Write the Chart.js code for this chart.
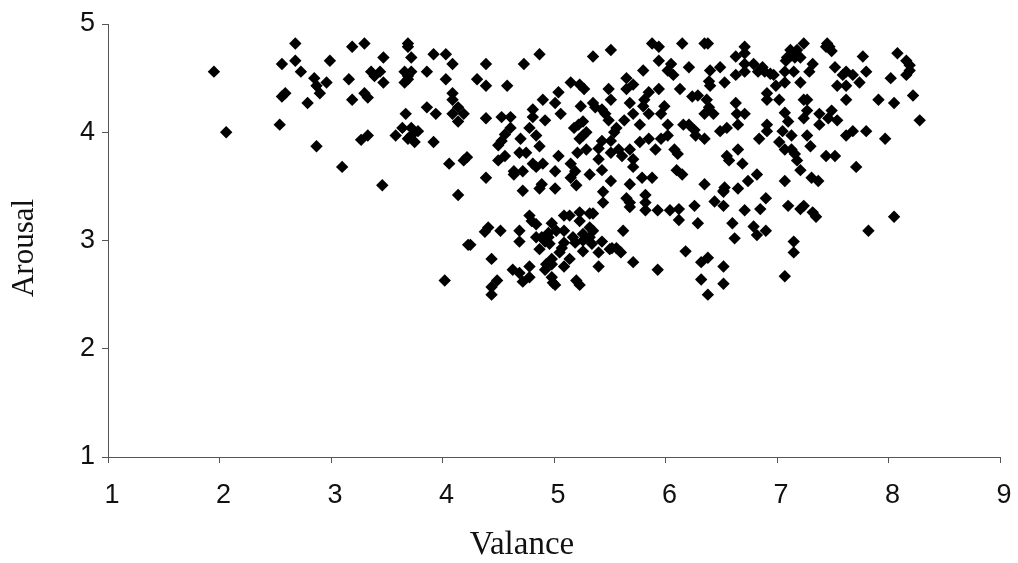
<!DOCTYPE html>
<html>
<head>
<meta charset="utf-8">
<title>Valance / Arousal</title>
<script src="https://cdn.jsdelivr.net/npm/chart.js@4"></script>
<style>
  html, body { margin: 0; background: #fff; }
  canvas { display: block; }
</style>
</head>
<body>
<canvas id="chart" width="1018" height="563"></canvas>
<script>
// [valance, arousal], left to right in rough groups
const lowValence = [
  [1.95,4.56],[2.06,4.00],[2.54,4.07],[2.56,4.63],[2.56,4.33],[2.59,4.36],[2.68,4.82],[2.68,4.66],
  [2.73,4.56],[2.79,4.27],[2.85,4.50],[2.87,4.43],[2.87,3.87],[2.90,4.36],[2.96,4.46],[2.99,4.66],
  [3.10,3.68],[3.16,4.49],[3.19,4.79],[3.19,4.30],[3.27,3.93],[3.30,4.82],[3.30,4.36],[3.33,4.32],
  [3.33,3.97],[3.36,4.56],[3.39,4.52],[3.44,4.56],[3.46,3.51],[3.47,4.69],[3.47,4.46],[3.58,3.97],
  [3.64,4.04],[3.66,4.56],[3.66,4.46],[3.67,4.17],[3.69,4.82],[3.69,4.79],[3.69,4.52],[3.69,4.49],
  [3.69,3.94],[3.72,4.69],[3.72,4.56],[3.72,4.04],[3.72,3.97],[3.75,3.91],[3.78,4.01],[3.86,4.56],
  [3.86,4.23],[3.92,4.72],[3.92,3.91],[3.94,4.17],[4.02,2.63],[4.03,4.72],[4.03,4.49],[4.06,3.71],
  [4.09,4.63],[4.09,4.36],[4.09,4.30],[4.09,4.17],[4.14,4.23],[4.14,4.10],[4.14,3.42],[4.19,4.17],
  [4.19,3.74],[4.22,3.77],[4.23,2.96],[4.25,2.96],[4.31,4.49],[4.38,3.08],[4.39,4.63],[4.39,4.43],
  [4.39,4.13],[4.39,3.58],[4.41,3.12],[4.44,2.83],[4.44,2.57],[4.44,2.50],[4.49,2.63]
];
const midLeftValence = [
  [4.50,3.88],[4.50,3.74],[4.52,3.09],[4.53,4.14],[4.53,3.92],[4.56,3.98],[4.56,3.78],[4.58,4.43],
  [4.61,4.14],[4.61,4.04],[4.63,2.73],[4.64,3.64],[4.64,3.61],[4.69,3.81],[4.69,3.09],[4.69,2.99],
  [4.69,2.70],[4.70,3.94],[4.72,3.64],[4.72,3.46],[4.72,2.62],[4.73,4.63],[4.75,3.81],[4.78,4.04],
  [4.78,3.23],[4.78,2.76],[4.78,2.66],[4.80,3.18],[4.81,4.21],[4.81,4.14],[4.81,3.71],[4.84,3.97],
  [4.84,3.68],[4.84,3.15],[4.84,3.03],[4.87,4.72],[4.87,3.87],[4.87,3.48],[4.87,2.92],[4.89,3.52],
  [4.89,3.03],[4.90,4.30],[4.90,3.71],[4.92,4.11],[4.92,2.99],[4.92,2.73],[4.93,2.78],[4.95,3.07],
  [4.95,3.03],[4.96,2.97],[4.98,3.16],[4.98,2.83],[4.98,2.78],[4.98,2.66],[4.99,2.61],[5.01,4.27],
  [5.01,3.64],[5.01,3.48],[5.01,2.59],[5.02,3.09],[5.04,4.37],[5.04,3.78],[5.05,2.89],[5.06,4.17],
  [5.07,2.93],[5.09,3.23],[5.09,3.09],[5.09,2.98],[5.09,2.76],[5.14,3.23],[5.14,2.83],[5.15,4.46],
  [5.15,3.71],[5.15,3.58],[5.17,3.03],[5.18,4.04],[5.19,3.64],[5.19,2.98],[5.20,3.51],[5.20,2.63],
  [5.21,3.81],[5.22,4.07],[5.23,4.44],[5.23,3.94],[5.23,3.26],[5.23,3.18],[5.23,2.59],[5.24,4.24],
  [5.26,4.10],[5.26,3.97],[5.26,3.06],[5.26,3.00],[5.26,2.90],[5.27,4.40],[5.29,4.00],[5.29,3.84],
  [5.32,3.61],[5.32,3.25],[5.32,3.12],[5.32,3.03],[5.34,2.97],[5.35,4.70],[5.35,4.27],[5.35,3.25],
  [5.35,3.09],[5.37,4.23],[5.40,3.85],[5.40,3.75],[5.40,2.89],[5.40,2.76],[5.43,4.21],[5.43,3.92],
  [5.43,3.65],[5.43,2.99],[5.44,3.45],[5.44,3.35],[5.46,4.17],[5.49,4.40],[5.49,4.11]
];
const midRightValence = [
  [5.50,2.92],[5.51,4.76],[5.51,4.30],[5.51,3.92],[5.51,3.81],[5.51,3.55],[5.52,2.93],[5.54,4.00],
  [5.56,4.04],[5.56,2.93],[5.58,3.84],[5.60,2.89],[5.61,3.78],[5.62,3.09],[5.63,4.11],[5.65,4.50],
  [5.65,4.40],[5.65,3.39],[5.68,4.27],[5.68,3.84],[5.68,3.52],[5.68,3.35],[5.68,3.31],[5.71,4.44],
  [5.71,4.17],[5.71,3.75],[5.71,3.68],[5.71,2.80],[5.77,4.07],[5.77,3.91],[5.79,3.58],[5.80,4.57],
  [5.80,4.24],[5.81,4.30],[5.82,3.42],[5.82,3.35],[5.82,3.28],[5.85,4.37],[5.85,4.17],[5.85,3.94],
  [5.88,4.82],[5.88,3.58],[5.91,3.84],[5.93,3.28],[5.93,2.73],[5.94,4.79],[5.94,4.66],[5.94,4.40],
  [5.96,4.17],[5.96,3.94],[5.99,4.24],[6.02,4.57],[6.02,4.07],[6.02,3.97],[6.04,3.28],[6.05,4.63],
  [6.07,4.53],[6.08,3.84],[6.10,3.65],[6.11,3.80],[6.12,3.29],[6.12,3.19],[6.13,4.40],[6.15,4.82],
  [6.15,3.61],[6.16,4.07],[6.18,2.90],[6.21,4.60],[6.21,4.07],[6.24,4.33],[6.26,4.02],[6.26,3.32],
  [6.27,3.97],[6.29,4.34],[6.29,3.16],[6.32,2.80],[6.32,2.64],[6.35,4.82],[6.35,4.17],[6.35,3.94],
  [6.35,3.52],[6.37,4.30],[6.38,4.82],[6.38,2.84],[6.38,2.50],[6.39,4.47],[6.39,4.23],[6.40,4.57],
  [6.40,4.43],[6.43,4.17],[6.44,3.36],[6.49,4.60],[6.49,4.01]
];
const highValence = [
  [6.52,3.46],[6.52,3.45],[6.52,3.32],[6.52,2.76],[6.52,2.60],[6.53,4.46],[6.53,3.49],[6.55,4.04],
  [6.55,3.78],[6.57,3.74],[6.60,3.16],[6.62,3.02],[6.63,4.70],[6.63,4.53],[6.63,4.27],[6.64,4.17],
  [6.65,4.07],[6.65,3.84],[6.65,3.48],[6.69,3.71],[6.71,4.79],[6.71,4.73],[6.71,4.63],[6.71,4.56],
  [6.71,4.17],[6.71,3.28],[6.74,3.55],[6.79,4.63],[6.79,3.13],[6.82,3.61],[6.82,3.05],[6.83,4.56],
  [6.84,3.94],[6.85,3.29],[6.87,4.60],[6.89,4.56],[6.90,3.39],[6.90,3.09],[6.91,4.36],[6.91,4.30],
  [6.91,4.07],[6.91,4.01],[6.94,4.54],[6.97,4.53],[6.99,4.43],[7.02,4.30],[7.02,3.91],[7.05,4.01],
  [7.07,4.56],[7.07,4.46],[7.07,4.18],[7.07,3.84],[7.07,3.55],[7.07,2.67],[7.08,4.66],[7.09,4.69],
  [7.10,4.10],[7.10,3.32],[7.12,4.76],[7.13,4.71],[7.13,3.97],[7.13,3.84],[7.15,4.56],[7.15,2.99],
  [7.15,2.89],[7.16,4.69],[7.16,3.80],[7.18,4.76],[7.18,3.74],[7.21,4.69],[7.21,4.46],[7.21,3.65],
  [7.21,3.29],[7.24,4.82],[7.24,4.30],[7.24,4.13],[7.24,3.32],[7.27,4.30],[7.27,4.20],[7.27,3.97],
  [7.29,4.56],[7.30,3.87],[7.31,3.58],[7.32,4.63],[7.32,3.26],[7.35,3.22],[7.37,3.55],[7.38,4.17],
  [7.38,4.07],[7.44,4.79],[7.44,3.78],[7.45,4.82],[7.46,4.13],[7.47,4.79],[7.49,4.75],[7.49,4.20],
  [7.52,4.60],[7.52,3.78],[7.54,4.43],[7.54,4.11],[7.59,4.53],[7.62,4.56],[7.62,4.43],[7.62,4.30],
  [7.62,3.97],[7.68,4.53],[7.68,4.01],[7.71,3.68],[7.74,4.46],[7.77,4.70],[7.80,4.56],[7.80,4.01],
  [7.82,3.09],[7.91,4.30],[7.97,3.94],[8.02,4.50],[8.05,4.27],[8.05,3.22],[8.08,4.73],[8.16,4.66],
  [8.16,4.53],[8.19,4.62],[8.19,4.57],[8.22,4.34],[8.28,4.11]
];
const xTitle = 'Valance';
const yTitle = 'Arousal';

const points = [...lowValence, ...midLeftValence, ...midRightValence, ...highValence]
  .map(p => ({ x: p[0], y: p[1] }));

// axis titles sit off-centre in the original, so they are drawn by hand
const axisTitles = {
  id: 'axisTitles',
  afterDraw(chart) {
    const ctx = chart.ctx;
    ctx.save();
    ctx.fillStyle = '#111';
    ctx.textAlign = 'center';
    ctx.textBaseline = 'middle';
    ctx.font = '33px "Liberation Serif"';
    ctx.fillText(xTitle, 522, 545);
    ctx.font = '31px "Liberation Serif"';
    ctx.translate(25, 248);
    ctx.rotate(-Math.PI / 2);
    ctx.fillText(yTitle, 0, 0);
    ctx.restore();
  }
};

const tickFont = { family: '"Liberation Sans"', size: 27 };
const axisLine = '#555';

new Chart(document.getElementById('chart'), {
  type: 'scatter',
  data: {
    datasets: [{
      label: 'Arousal',
      data: points,
      pointStyle: 'rectRot',
      pointRadius: 6.2,
      pointBorderWidth: 0,
      backgroundColor: '#000',
      borderColor: '#000'
    }]
  },
  options: {
    responsive: false,
    animation: false,
    layout: { padding: { top: 24, right: 18 } },
    plugins: { legend: { display: false }, tooltip: { enabled: false } },
    scales: {
      x: {
        type: 'linear',
        min: 1,
        max: 9,
        // the big tick padding would otherwise shrink the plot on the right
        afterFit: (scale) => { scale.height = 106; scale.paddingRight = 0; scale.paddingLeft = 0; },
        border: { color: axisLine },
        grid: { drawOnChartArea: false, tickLength: 6, color: axisLine },
        ticks: { stepSize: 1, color: '#111', font: tickFont, padding: 16, maxRotation: 0, labelOffset: 4 }
      },
      y: {
        min: 1,
        max: 5,
        afterFit: (scale) => { scale.width = 108; },
        border: { color: axisLine },
        grid: { drawOnChartArea: false, tickLength: 6, color: axisLine },
        ticks: { stepSize: 1, color: '#111', font: tickFont, padding: 7 }
      }
    }
  },
  plugins: [axisTitles]
});
</script>
</body>
</html>
